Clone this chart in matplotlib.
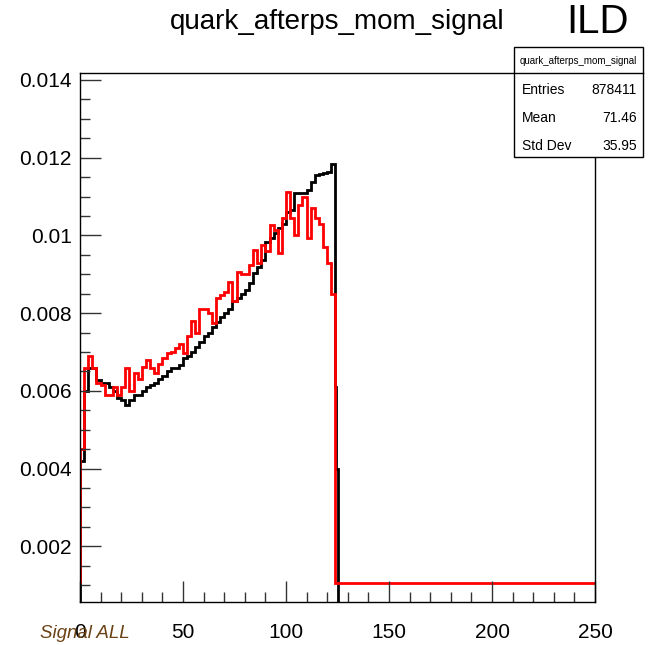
import numpy as np
import matplotlib
matplotlib.use("Agg")
import matplotlib.pyplot as plt
from matplotlib.ticker import MultipleLocator

plt.rcParams['font.family'] = ['Liberation Sans', 'DejaVu Sans']

# histogram contents, 2 GeV bins starting at 0
bin_width = 2
black_vals = [0.0042, 0.0060, 0.0066, 0.0066, 0.00628, 0.0062, 0.0062, 0.0061,
              0.0060, 0.00582, 0.00577, 0.00564, 0.00577, 0.0059, 0.0059, 0.0060,
              0.0061, 0.00615, 0.0062, 0.0063, 0.00637, 0.0065, 0.0066, 0.0066,
              0.00667, 0.00685, 0.0069, 0.0070, 0.00714, 0.00727, 0.0074, 0.0075,
              0.00765, 0.00778, 0.0079, 0.0080, 0.0081, 0.0083, 0.0084, 0.0085,
              0.0086, 0.00877, 0.00903, 0.0092, 0.00937, 0.00984, 0.00993, 0.01006,
              0.0102, 0.0103, 0.0106, 0.01066, 0.0111, 0.0111, 0.0111, 0.01117,
              0.01138, 0.01156, 0.01158, 0.0116, 0.01164, 0.01184]
black_edge_vals = [0.0061, 0.0040]   # last narrow bins at 124-124.5 and 124.5-125
red_vals = [0.0045, 0.0066, 0.0069, 0.0066, 0.0062, 0.00615, 0.0059, 0.0059,
            0.0061, 0.0059, 0.0061, 0.0066, 0.0060, 0.00646, 0.0063, 0.00662,
            0.0068, 0.00659, 0.00646, 0.0067, 0.00685, 0.00697, 0.0070, 0.0071,
            0.0072, 0.00697, 0.0074, 0.0078, 0.0075, 0.0081, 0.0081, 0.0080,
            0.00775, 0.0084, 0.00847, 0.00855, 0.0088, 0.0083, 0.00907, 0.0090,
            0.0090, 0.00924, 0.00963, 0.0093, 0.00975, 0.0096, 0.01027, 0.01014,
            0.00955, 0.01045, 0.01113, 0.01045, 0.01001, 0.01078, 0.0110, 0.00993,
            0.0107, 0.01045, 0.0103, 0.0097, 0.0093, 0.0085]
red_tail = 0.00105   # flat red level from 124 to 250

stats_rows = [("Entries", "878411"), ("Mean", "71.46"), ("Std Dev", "35.95")]
ytick_vals = [0.002, 0.004, 0.006, 0.008, 0.010, 0.012, 0.014]
ytick_labels = ["0.002", "0.004", "0.006", "0.008", "0.01", "0.012", "0.014"]

fig = plt.figure(figsize=(6.56, 6.45), dpi=100)
ax = fig.add_axes([80/656, 1-602/645, 515/656, 529/645])

black_edges = np.arange(len(black_vals) + 1) * bin_width
black_edges = np.append(black_edges, [124.5, 125.2, 250])
ax.stairs(black_vals + black_edge_vals + [0.0], black_edges, baseline=0,
          color="black", lw=2.0)

red_edges = np.append(np.arange(len(red_vals) + 1) * bin_width, 250)
ax.stairs(red_vals + [red_tail], red_edges, baseline=red_tail,
          color="#ff0000", lw=2.0)

ax.set_xlim(0, 250)
ax.set_ylim(0.000566, 0.01418)
ax.set_xticks([0, 50, 100, 150, 200, 250])
ax.xaxis.set_minor_locator(MultipleLocator(10))
ax.set_yticks(ytick_vals)
ax.set_yticklabels(ytick_labels)
ax.yaxis.set_minor_locator(MultipleLocator(0.0005))
ax.tick_params(which="both", direction="in", top=False, right=False,
               labelsize=15, color="#333333", width=1)
ax.tick_params(which="major", length=15)
ax.tick_params(which="minor", length=7.5)
ax.tick_params(axis="x", pad=15)
ax.tick_params(axis="y", pad=6)
for sp in ax.spines.values():
    sp.set_linewidth(1)

# title and labels
fig.text(337/656, 1-22/645, "quark_afterps_mom_signal", fontsize=20,
         ha="center", va="center")
fig.text(597/656, 1-22/645, "ILD", fontsize=29, ha="center", va="center")
fig.text(40/656, 1-633/645, "Signal ALL", fontsize=13.5, style="italic",
         color="#6b4214", ha="left", va="center")

# stats box
bx0, bx1, by0, by1 = 514, 643, 47, 157
box = plt.Rectangle((bx0/656, 1-by1/645), (bx1-bx0)/656, (by1-by0)/645,
                    transform=fig.transFigure, fill=True, facecolor="white",
                    edgecolor="black", lw=1, zorder=5)
fig.patches.append(box)
fig.add_artist(plt.Line2D([bx0/656, bx1/656], [1-73/645, 1-73/645],
                          transform=fig.transFigure, color="black", lw=1, zorder=6))
fig.text((bx0+bx1)/2/656, 1-61/645, "quark_afterps_mom_signal", fontsize=7,
         ha="center", va="center", zorder=7)
for i, (name, val) in enumerate(stats_rows):
    yy = 1-(90 + 28*i)/645
    fig.text(522/656, yy, name, fontsize=10, ha="left", va="center", zorder=7)
    fig.text(637/656, yy, val, fontsize=10, ha="right", va="center", zorder=7)

fig.savefig("out.png", dpi=100)
